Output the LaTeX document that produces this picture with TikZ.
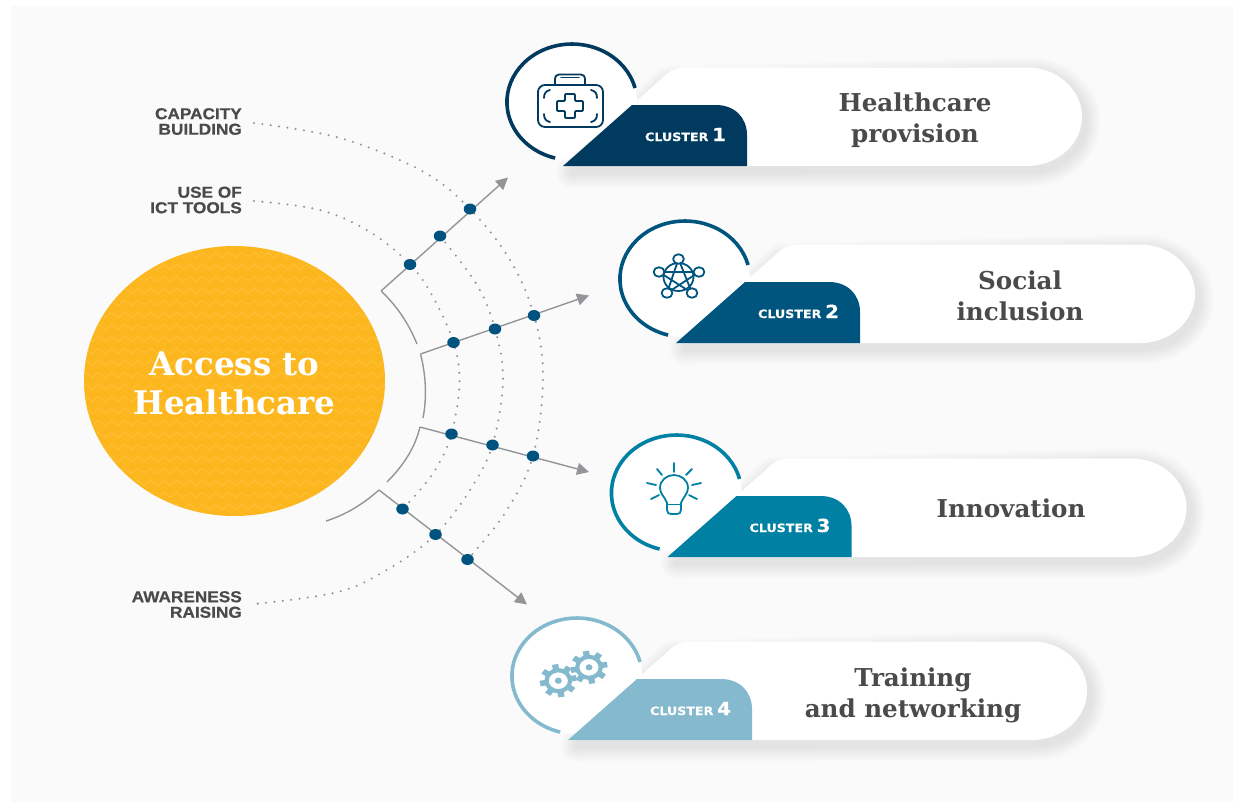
\documentclass[tikz,border=0pt]{standalone}
\usepackage{fontspec}
\usetikzlibrary{arrows.meta,shapes.geometric,decorations.pathmorphing}
\newfontfamily\titlefont{DejaVu Serif}
\newfontfamily\labfont[FakeStretch=1.09,FakeBold=.6]{Liberation Sans}
\newfontfamily\clufont[FakeStretch=1.1,FakeBold=.3]{DejaVu Sans}
\definecolor{bgc}{HTML}{FAFAFA}
\definecolor{shd}{HTML}{E3E3E3}
\definecolor{sun}{HTML}{FDB71E}
\definecolor{sunl}{HTML}{FDBE3A}
\definecolor{ink}{HTML}{4A4A4A}
\definecolor{greyl}{HTML}{939598}
\definecolor{dotc}{HTML}{00527F}
\definecolor{cA}{HTML}{003A5F}
\definecolor{cB}{HTML}{00557F}
\definecolor{cC}{HTML}{0080A3}
\definecolor{cD}{HTML}{85BACE}
\tikzset{
  bluedot/.style={ellipse,fill=dotc,draw=none,minimum width=12.5pt,minimum height=11pt,inner sep=0pt},
  dotted arc/.style={draw=greyl,line width=2.3pt,line cap=round,dash pattern=on 0pt off 8.4pt},
  guide/.style={draw=greyl,line width=1.4pt},
  ray/.style={guide,-{Triangle[length=12pt,width=12pt]}},
  sidelabel/.style={anchor=east,align=right,text=ink,inner sep=0pt,font=\labfont\bfseries\fontsize{15.8}{15.5}\selectfont},
  bigtitle/.style={align=center,text=ink,inner sep=0pt,font=\titlefont\bfseries\fontsize{24.6}{30.5}\selectfont},
  icon/.style={line width=1.8pt,line cap=round,line join=round},
}
% #1 index, #2 dx, #3 dy, #4 colour, #5 digit
\newcommand\clusterpill[5]{%
\begin{scope}[shift={(#2,#3)}]
  \foreach \w/\m in {32/6,30/12,28/18,26/24,24/31,22/38,20/45,18/52,16/59,14/66,12/73,10/80,8/86,6/91,4/96,2/100}{
    \draw[draw=shd!\m!bgc,fill=shd!\m!bgc,line width=\w pt,line join=round]
      (572,172) -- (668,82) -- (1030,73) arc[start angle=90,end angle=-90,x radius=55pt,y radius=49pt] -- cycle;
  }
  \fill[white] (572,102) ellipse[x radius=65pt,y radius=58pt];
  \path[fill=white] (563,166) -- (660,80) .. controls (668,72) and (674,67.5) .. (686,67.5) -- (1027,67.5)
      arc[start angle=90,end angle=-90,x radius=55pt,y radius=49.25pt] -- cycle;
  \draw[#4,line width=3.6pt] (635,88) arc[start angle=14,end angle=255,x radius=65pt,y radius=58pt];
  \fill[#4] (563,166) -- (632,105) -- (716,105) .. controls (735,105) and (747,118) .. (747,135) -- (747,166) -- cycle;
  \node[inner sep=0pt,anchor=base,text=white,font=\clufont\bfseries\fontsize{11.5}{12}\selectfont] (tag#1) at (685.5,141)
     {CLUSTER\,\,{\fontsize{18}{12}\selectfont #5}};
\end{scope}}
\newcommand\gearicon[2]{%
\begin{scope}[shift={(#1,#2)},xscale=1.12]
  \foreach \a in {0,45,...,315}{\fill[cD,rotate=\a+10] (-2.8,11) rectangle (2.8,16.5);}
  \draw[cD,line width=4.2pt] (0,0) circle[radius=10.5pt];
  \fill[cD] (0,0) circle[radius=3.1pt];
\end{scope}}
\begin{document}
\begin{tikzpicture}[x=1pt,y=-1pt]
\useasboundingbox (0,0) rectangle (1233,804);
\fill[white] (0,0) rectangle (1233,804);
\fill[bgc] (11,6) rectangle (1233,802);

% centre
\node[ellipse,fill=sun,minimum width=301pt,minimum height=270pt,inner sep=0pt,
  path picture={\foreach \yy in {-138,-126,...,138}{
     \draw[sunl,line width=.9pt,decorate,decoration={zigzag,segment length=13pt,amplitude=2.6pt}] (-165,\yy) -- (165,\yy);}}]
  (core) at (234.5,381) {};
\node[text=white,align=center,inner sep=0pt,font=\titlefont\bfseries\fontsize{32.5}{39}\selectfont] (coretext) at (234.5,383) {Access to\\Healthcare};

% labels
\node[sidelabel] (lcap) at (242,121.5) {CAPACITY\\BUILDING};
\node[sidelabel] (lict) at (242,200) {USE OF\\ICT TOOLS};
\node[sidelabel] (lawa) at (242,604.5) {AWARENESS\\RAISING};
\coordinate (scap) at (254,123);
\coordinate (sict) at (254,201);
\coordinate (sawa) at (254,604);

% dotted arcs
\draw[dotted arc] plot[smooth,tension=.6] coordinates {(scap) (340,138) (422,171) (470,209) (510,260) (534,315.5) (543,377) (533,456) (505,513) (467.5,559.5)};
\draw[dotted arc] plot[smooth,tension=.6] coordinates {(sict) (320,210) (370,232) (410,264.5) (433,297) (453.5,342.5) (459.5,383) (451.5,434) (437,467) (420,490) (402.5,509)};
\draw[dotted arc] plot[smooth,tension=.6] coordinates {(440,236) (477,285) (495,329) (503,380) (492.5,445) (470,490) (435.5,534.5) (390,568) (338,592) (sawa)};

% guides
\coordinate (t1) at (381,291); \coordinate (t2) at (420.5,354); \coordinate (t3) at (420,427); \coordinate (t4) at (379,490);
\coordinate (e1) at (508,177.5); \coordinate (e2) at (589,295.5); \coordinate (e3) at (589,472); \coordinate (e4) at (527,604.5);
\draw[guide] (417,344) .. controls (408,322) and (396,305) .. (t1);
\draw[guide] (t2) .. controls (426,375) and (427,398) .. (423,418);
\draw[guide] (t3) .. controls (415,448) and (403,466) .. (387,482);
\draw[guide] (t4) .. controls (362,505) and (345,515) .. (326,521);
\draw[ray] (t1) -- (e1);
\draw[ray] (t2) -- (e2);
\draw[ray] (t3) -- (e3);
\draw[ray] (t4) -- (e4);

% dots
\node[bluedot] (a1) at (410,264.5) {};
\node[bluedot] (a2) at (440,236) {};
\node[bluedot] (a3) at (470,209) {};
\node[bluedot] (b1) at (453.5,342.5) {};
\node[bluedot] (b2) at (495,329) {};
\node[bluedot] (b3) at (534,315.5) {};
\node[bluedot] (c1) at (451.5,434) {};
\node[bluedot] (c2) at (492.5,445) {};
\node[bluedot] (c3) at (533,456) {};
\node[bluedot] (d1) at (402.5,509) {};
\node[bluedot] (d2) at (435.5,534.5) {};
\node[bluedot] (d3) at (467.5,559.5) {};

% clusters
\clusterpill{1}{0}{0}{cA}{1}
\clusterpill{2}{113}{177}{cB}{2}
\clusterpill{3}{104.5}{391}{cC}{3}
\clusterpill{4}{5}{574}{cD}{4}

\node[bigtitle] (title1) at (915,120) {Healthcare\\provision};
\node[bigtitle] (title2) at (1020,296) {Social\\inclusion};
\node[bigtitle] (title3) at (1011,508) {Innovation};
\node[bigtitle] (title4) at (913,695.5) {Training\\and networking};

% medkit
\begin{scope}[icon,cA]
  \draw[rounded corners=7pt] (538,85) rectangle (603,127);
  \draw[rounded corners=4pt] (555,85) -- (555,74.5) -- (585,74.5) -- (585,85);
  \draw[line width=1.2pt] (561,77.5) -- (579,77.5);
  \draw[rounded corners=1pt] (565,94) -- (575,94) -- (575,101) -- (583,101) -- (583,111) -- (575,111) -- (575,118) -- (565,118) -- (565,111) -- (557,111) -- (557,101) -- (565,101) -- cycle;
  \draw (544,98) .. controls (544,93) and (546,91) .. (550,90);
  \draw (597,98) .. controls (597,93) and (595,91) .. (591,90);
  \draw (544,114) .. controls (544,119) and (546,121) .. (550,122);
  \draw (597,114) .. controls (597,119) and (595,121) .. (591,122);
\end{scope}

% network
\begin{scope}[icon,cB]
  \draw (678.5,259) -- (667,293) -- (699,272) -- (659,272) -- (692,293) -- cycle;
  \draw (678.5,277) ellipse[x radius=15pt,y radius=14pt];
  \foreach \x/\y in {678.5/259,659/272,699/272,667/293,692/293}
    \draw[fill=white] (\x,\y) ellipse[x radius=5.4pt,y radius=4.8pt];
\end{scope}

% bulb
\begin{scope}[icon,cC]
  \draw (667,503) .. controls (665,497) and (660,494) .. (660,488) .. controls (660,480) and (667,475) .. (674,475) .. controls (681,475) and (688,480) .. (688,488) .. controls (688,494) and (683,497) .. (681,503) -- (681,510) .. controls (681,513) and (679,514) .. (677,514) -- (671,514) .. controls (669,514) and (667,513) .. (667,510) -- cycle;
  \draw (667,504.5) -- (681,504.5);
  \draw (674,463) -- (674,472);
  \draw (657,469) -- (662,475);
  \draw (692,469) -- (686,475);
  \draw (647,483) -- (656,485);
  \draw (701,483) -- (692,485);
  \draw (651,499) -- (659,495);
  \draw (697,499) -- (689,495);
\end{scope}

% gears
\gearicon{558.3}{680.7}
\gearicon{589}{667.3}
\end{tikzpicture}
\end{document}
